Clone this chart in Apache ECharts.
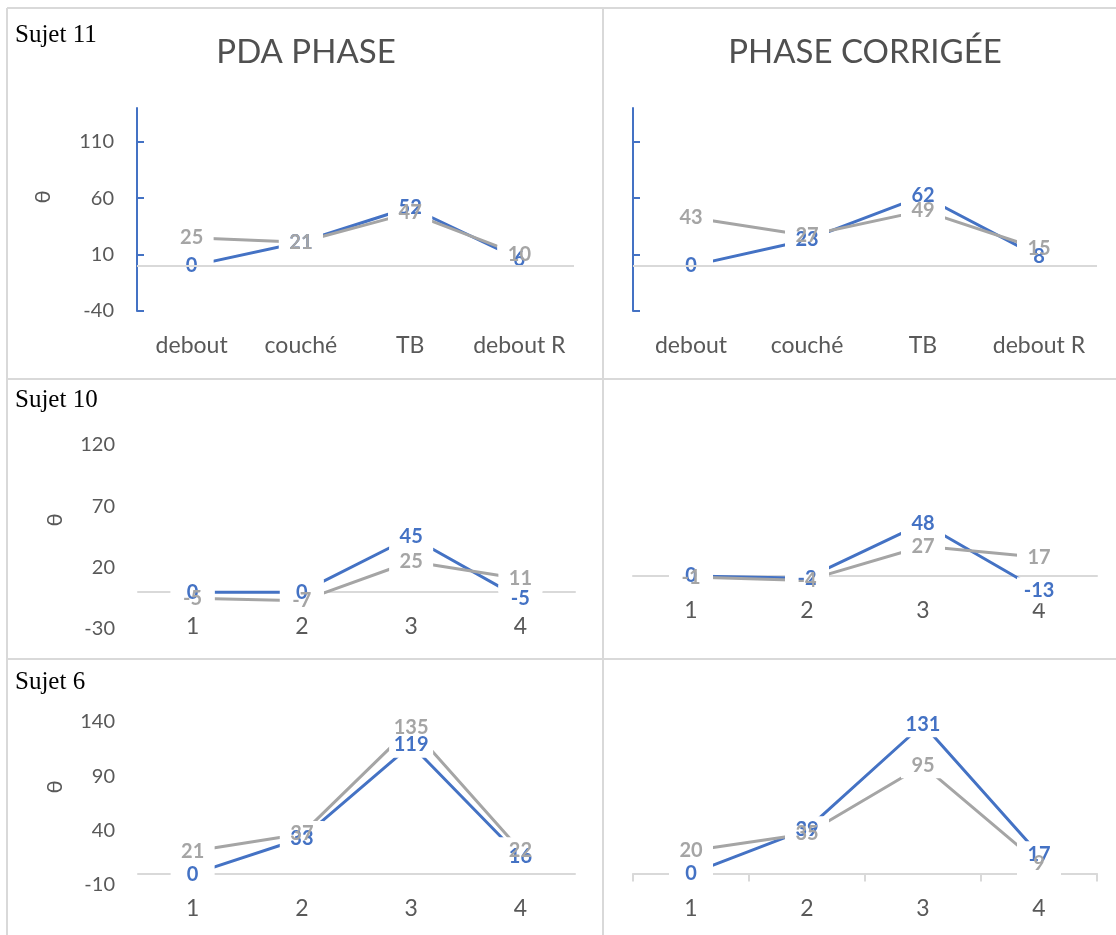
<!DOCTYPE html>
<html>
<head>
<meta charset="utf-8">
<title>Sujets - PDA phase / phase corrigée</title>
<script src="https://cdn.jsdelivr.net/npm/echarts@6/dist/echarts.min.js"></script>
<style>
  html, body { margin: 0; padding: 0; background: #fff; }
  #main { width: 1116px; height: 935px; }
</style>
</head>
<body>
<div id="main"></div>
<script>
// categories
var catWords = ['debout', 'couché', 'TB', 'debout R'];
var catNums = ['1', '2', '3', '4'];

// Sujet 11
var s11PdaBlue = [0, 21, 52, 6];
var s11PdaGray = [25, 21, 47, 10];
var s11CorBlue = [0, 23, 62, 8];
var s11CorGray = [43, 27, 49, 15];
// Sujet 10
var s10PdaBlue = [0, 0, 45, -5];
var s10PdaGray = [-5, -7, 25, 11];
var s10CorBlue = [0, -2, 48, -13];
var s10CorGray = [-1, -4, 27, 17];
// Sujet 6
var s6PdaBlue = [0, 33, 119, 16];
var s6PdaGray = [21, 37, 135, 22];
var s6CorBlue = [0, 39, 131, 17];
var s6CorGray = [20, 35, 95, 9];

// y tick labels
var yTicks11 = [-40, 10, 60, 110];
var yTicks10 = [-30, 20, 70, 120];
var yTicks6 = [-10, 40, 90, 140];

var BLUE = '#4472C4', GRAY = '#A5A5A5', TXT = '#595959', RULE = '#D9D9D9';
var FONT = 'Lato';

// layout of the six panels
var panels = [
  { cats: catWords, blue: s11PdaBlue, gray: s11PdaGray, left: 137, width: 437, top: 108, height: 203,
    min: -40, max: 140, ticks: yTicks11, yLabels: true, yLine: true, low: true },
  { cats: catWords, blue: s11CorBlue, gray: s11CorGray, left: 633, width: 464, top: 108, height: 203,
    min: -40, max: 140, ticks: yTicks11, yLabels: false, yLine: true, low: true },
  { cats: catNums, blue: s10PdaBlue, gray: s10PdaGray, left: 138, width: 437, top: 445, height: 184,
    min: -30, max: 120, ticks: yTicks10, yLabels: true, yLine: false, low: false },
  { cats: catNums, blue: s10CorBlue, gray: s10CorGray, left: 633, width: 464, top: 510, height: 88,
    min: -20, max: 60, ticks: null, yLabels: false, yLine: false, low: false },
  { cats: catNums, blue: s6PdaBlue, gray: s6PdaGray, left: 138, width: 437, top: 722, height: 163,
    min: -10, max: 140, ticks: yTicks6, yLabels: true, yLine: false, low: false },
  { cats: catNums, blue: s6CorBlue, gray: s6CorGray, left: 633, width: 464, top: 714, height: 171,
    min: -10, max: 140, ticks: null, yLabels: false, yLine: false, low: false, xTicks: true }
];

var grids = [], xAxes = [], yAxes = [], series = [];

panels.forEach(function (p, i) {
  grids.push({ left: p.left, top: p.top, width: p.width, height: p.height, outerBoundsMode: 'none' });

  // category axis sits on the zero line (Excel style), except in the first row
  var zeroShift = p.height * p.min / (p.max - p.min); // negative: lift from bottom edge to 0
  xAxes.push({
    type: 'category', gridIndex: i, data: p.cats, boundaryGap: true,
    offset: p.low ? 0 : zeroShift,
    axisLine: { show: !p.low, onZero: false, lineStyle: { color: RULE, width: 2 } },
    axisTick: { show: !!p.xTicks, length: 8, lineStyle: { color: RULE, width: 2 } },
    axisLabel: { interval: 0, margin: 23, color: TXT, fontSize: 23, fontFamily: FONT },
    splitLine: { show: false }
  });

  var y = {
    type: 'value', gridIndex: i, min: p.min, max: p.max, interval: 50,
    axisLine: { show: p.yLine, lineStyle: { color: BLUE, width: 2 } },
    axisTick: { show: p.yLine, inside: true, length: 7, lineStyle: { color: BLUE, width: 2 } },
    axisLabel: { show: p.yLabels, margin: 23, color: TXT, fontSize: 20, fontFamily: FONT },
    splitLine: { show: false }
  };
  if (p.ticks) {
    y.axisTick.customValues = p.ticks;
    y.axisLabel.customValues = p.ticks;
  }
  yAxes.push(y);

  // lines
  [[p.blue, BLUE], [p.gray, GRAY]].forEach(function (s, k) {
    var line = {
      type: 'line', xAxisIndex: i, yAxisIndex: i, data: s[0], z: 2,
      showSymbol: false, symbol: 'none',
      lineStyle: { color: s[1], width: 3 }, itemStyle: { color: s[1] }
    };
    if (p.low && k === 0) {
      line.markLine = {
        silent: true, symbol: ['none', 'none'], label: { show: false },
        lineStyle: { color: RULE, width: 2, type: 'solid' },
        data: [{ yAxis: 0 }]
      };
    }
    series.push(line);
  });
  // white boxes behind the data labels (break the lines like Excel does)
  [p.blue, p.gray].forEach(function (d) {
    series.push({
      type: 'scatter', xAxisIndex: i, yAxisIndex: i, data: d, z: 3,
      symbolSize: 0.1, itemStyle: { color: 'rgba(0,0,0,0)', opacity: 1 },
      label: {
        show: true, position: 'inside', opacity: 1,
        formatter: function (prm) { return '{m|' + prm.value + '}'; },
        rich: {
          m: {
            width: 32, height: 20, align: 'center', padding: [3, 6],
            backgroundColor: '#ffffff', color: 'rgba(0,0,0,0)',
            fontSize: 20, fontWeight: 'bold', fontFamily: FONT
          }
        }
      }
    });
  });
  // data labels
  [[p.blue, BLUE], [p.gray, GRAY]].forEach(function (s) {
    series.push({
      type: 'scatter', xAxisIndex: i, yAxisIndex: i, data: s[0], z: 4,
      symbolSize: 0.1, itemStyle: { color: 'rgba(0,0,0,0)', opacity: 1 },
      label: {
        show: true, position: 'inside', color: s[1], opacity: 1,
        fontSize: 20, fontWeight: 'bold', fontFamily: FONT
      }
    });
  });
});

function rule(x1, y1, x2, y2) {
  return { type: 'line', shape: { x1: x1, y1: y1, x2: x2, y2: y2 }, style: { stroke: RULE, lineWidth: 2 }, silent: true };
}
function sujet(t, y) {
  return { type: 'text', x: 15, y: y, style: { text: t, fill: '#000', font: '25px "Liberation Serif"', textVerticalAlign: 'middle' } };
}
function theta(x, y) {
  return { type: 'text', x: x, y: y, rotation: Math.PI / 2,
    style: { text: 'θ', fill: TXT, font: '22px ' + FONT, textAlign: 'center', textVerticalAlign: 'middle' } };
}
function heading(t, x) {
  return { type: 'text', x: x, y: 52, style: { text: t, fill: '#505050', font: '33px ' + FONT, textAlign: 'center', textVerticalAlign: 'middle' } };
}

var graphics = [
  rule(7, 8, 1116, 8), rule(7, 8, 7, 935), rule(603, 8, 603, 935),
  rule(7, 379, 1116, 379), rule(7, 659, 1116, 659),
  sujet('Sujet 11', 35), sujet('Sujet 10', 400), sujet('Sujet 6', 682),
  heading('PDA PHASE', 306), heading('PHASE CORRIGÉE', 865),
  theta(43, 197), theta(55, 520), theta(55, 787)
];

var myChart = echarts.init(document.getElementById('main'));
myChart.setOption({
  animation: false,
  backgroundColor: '#fff',
  grid: grids,
  xAxis: xAxes,
  yAxis: yAxes,
  series: series,
  graphic: graphics
});
</script>
</body>
</html>
